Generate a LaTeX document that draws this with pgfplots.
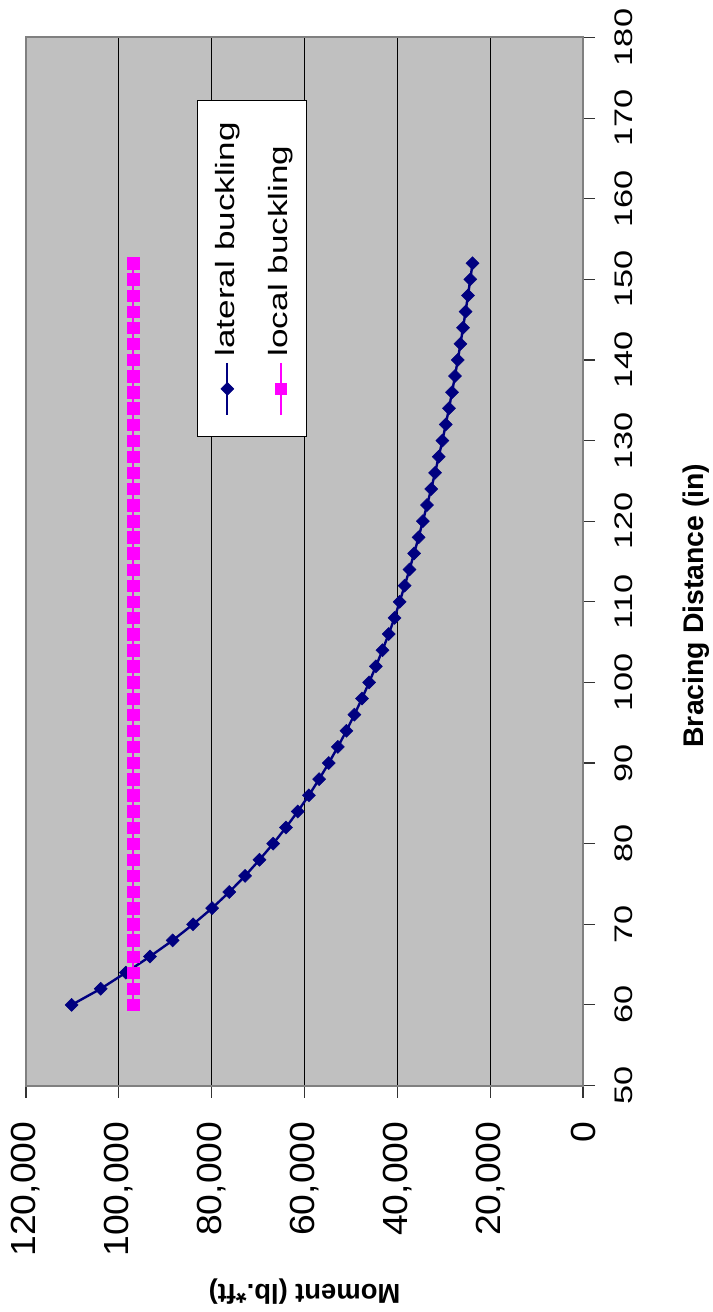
\documentclass[border=0pt]{standalone}
\usepackage{fontspec}
\setmainfont{Liberation Sans}
\newfontfamily\xtickfont[FakeStretch=1.07]{Liberation Sans}
\newfontfamily\ytickfont[FakeStretch=1.35]{Liberation Sans}
\newfontfamily\legfont[FakeStretch=1.33]{Liberation Sans}
\usepackage{pgfplots}
\usepackage{pgfplotstable}
\pgfplotsset{compat=1.18}
\definecolor{plotgray}{RGB}{192,192,192}
\definecolor{navyc}{RGB}{0,0,128}
\definecolor{magc}{RGB}{255,0,255}
\definecolor{framegray}{RGB}{128,128,128}

\pgfplotstableread{
d M
60 110170
62 103900
64 98500
66 93300
68 88400
70 84000
72 79900
74 76200
76 72800
78 69700
80 66750
82 64000
84 61450
86 59050
88 56850
90 54770
92 52820
94 50970
96 49250
98 47620
100 46080
102 44620
104 43200
106 41860
108 40600
110 39500
112 38420
114 37380
116 36380
118 35420
120 34500
122 33600
124 32700
126 31870
128 31080
130 30290
132 29560
134 28870
136 28210
138 27580
140 26980
142 26400
144 25840
146 25300
148 24780
150 24280
152 23790
}\lateral

\pgfplotstableread{
d M
60 96900
62 96900
64 96900
66 96900
68 96900
70 96900
72 96900
74 96900
76 96900
78 96900
80 96900
82 96900
84 96900
86 96900
88 96900
90 96900
92 96900
94 96900
96 96900
98 96900
100 96900
102 96900
104 96900
106 96900
108 96900
110 96900
112 96900
114 96900
116 96900
118 96900
120 96900
122 96900
124 96900
126 96900
128 96900
130 96900
132 96900
134 96900
136 96900
138 96900
140 96900
142 96900
144 96900
146 96900
148 96900
150 96900
152 96900
}\local

\begin{document}
\begin{tikzpicture}
\begin{axis}[
  scale only axis, width=557bp, height=1048bp,
  xmin=0, xmax=120000, x dir=reverse,
  ymin=50, ymax=180,
  xtick={0,20000,40000,60000,80000,100000,120000},
  xticklabels={0,{20,000},{40,000},{60,000},{80,000},{100,000},{120,000}},
  ytick={50,60,70,80,90,100,110,120,130,140,150,160,170,180},
  yticklabels={50,60,70,80,90,100,110,120,130,140,150,160,170,180},
  scaled x ticks=false,
  xtick pos=left, ytick pos=right,
  xticklabel pos=left, yticklabel pos=right,
  tick align=outside,
  major tick length=12bp,
  tick style={black!80, line width=1.2bp},
  axis line style={framegray, line width=2bp},
  axis background/.style={fill=plotgray},
  xmajorgrids, major grid style={black, line width=1.3bp},
  tick label style={inner sep=0bp},
  xticklabel style={font=\xtickfont\fontsize{35}{40}\selectfont, rotate=90, anchor=east},
  yticklabel style={font=\ytickfont\fontsize{25.5}{30}\selectfont, rotate=90, anchor=north},
  xticklabel shift=24bp, yticklabel shift=20bp,
  xlabel={Moment (lb.*ft)},
  ylabel={Bracing Distance (in)},
  xlabel style={font=\bfseries\fontsize{27.5}{32}\selectfont, inner sep=0bp, rotate=180, anchor=south, at={(ticklabel cs:0.5,22bp)}},
  ylabel style={font=\bfseries\fontsize{28.5}{33}\selectfont, inner sep=0bp, anchor=north, at={(ticklabel cs:0.458,50bp)}},
  legend style={at={(axis cs:71310,151.35)}, anchor=center, draw=black, line width=1bp, fill=white,
    font=\legfont\fontsize{26.5}{30}\selectfont,
    inner xsep=17.5bp, inner ysep=22bp,
    nodes={rotate=90, inner sep=0bp},
    column sep=0bp,
    /tikz/every even column/.append style={column sep=33bp}},
  legend columns=-1,
  legend cell align=left,
  legend image code/.code={%
    \path[draw=none, fill=none] (0bp,0bp) -- (0bp,-58bp);
    \draw[overlay, line width=2.2bp, mark repeat=2, mark phase=2] plot coordinates {(12.5bp,-6bp) (12.5bp,-32bp) (12.5bp,-58bp)};
  },
]
\addplot[navyc, line width=2.4bp, mark=square*, mark size=4.6bp, mark options={rotate=45, fill=navyc, draw=navyc, line width=0.5bp, solid}] table[x=M, y=d] {\lateral};
\addlegendentry{lateral buckling}
\addplot[magc, line width=2.4bp, mark=square*, mark size=5.7bp, mark options={fill=magc, draw=magc, line width=0.5bp, solid}] table[x=M, y=d] {\local};
\addlegendentry{local buckling}
\coordinate (pa) at (axis cs:120000,50);
\coordinate (pb) at (axis cs:0,180);
\end{axis}
\pgfresetboundingbox
\path ([xshift=-26bp,yshift=-226.5bp]pa) rectangle ([xshift=130bp,yshift=37.5bp]pb);
\end{tikzpicture}
\end{document}
